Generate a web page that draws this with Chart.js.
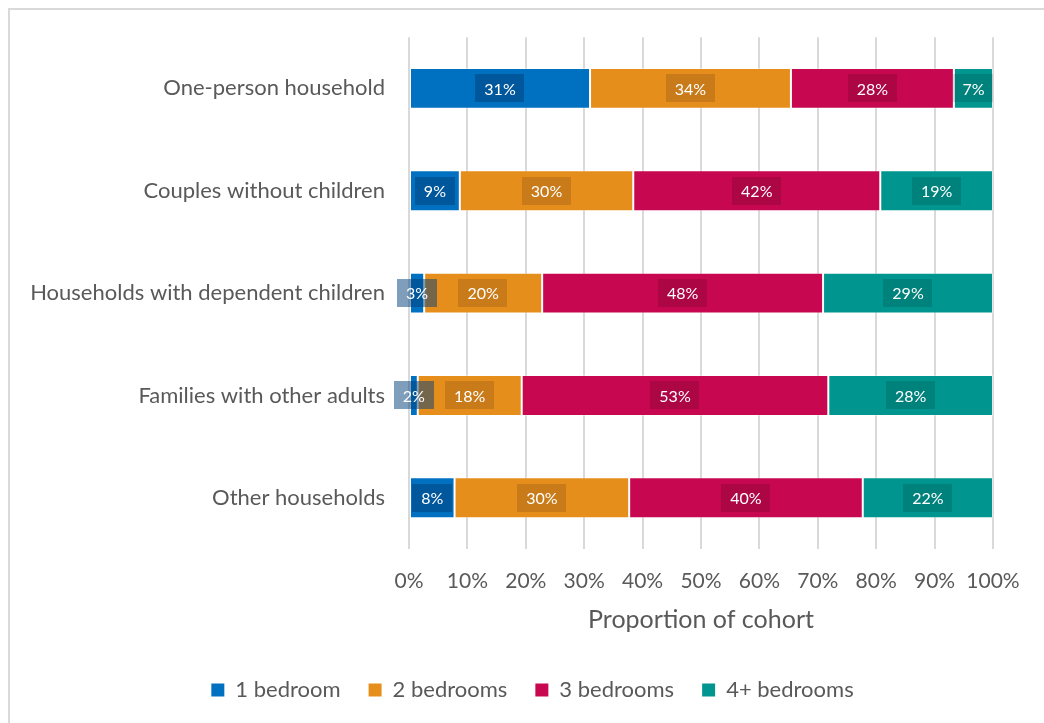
<!DOCTYPE html>
<html>
<head>
<meta charset="utf-8">
<script src="https://cdn.jsdelivr.net/npm/chart.js@4.4.1/dist/chart.umd.min.js"></script>
<style>
  html, body { margin: 0; padding: 0; background: #fff; overflow: hidden; }
  #wrap { position: relative; width: 1044px; height: 723px; overflow: hidden; }
  #frame { position: absolute; left: 8px; top: 8px; width: 1060px; height: 720px;
           border-left: 2px solid #d9d9d9; border-top: 2px solid #d9d9d9; box-sizing: border-box; }
  canvas { position: absolute; left: 0; top: 0; }
</style>
</head>
<body>
<div id="wrap">
  <div id="frame"></div>
  <canvas id="c" width="1057" height="723"></canvas>
</div>
<script>
const categories = ["One-person household", "Couples without children", "Households with dependent children", "Families with other adults", "Other households"];
const seriesNames = ["1 bedroom", "2 bedrooms", "3 bedrooms", "4+ bedrooms"];
const oneBedroom   = [31.0, 8.7, 2.6, 1.5, 7.8];
const twoBedrooms  = [34.4, 29.7, 20.2, 17.8, 29.9];
const threeBedrooms = [27.9, 42.3, 48.1, 52.5, 40.0];
const fourPlusBedrooms = [6.7, 19.3, 29.1, 28.2, 22.3];
const tickLabels = ["0%", "10%", "20%", "30%", "40%", "50%", "60%", "70%", "80%", "90%", "100%"];
const axisTitle = "Proportion of cohort";

const colors = ["#0070C0", "#E68E1C", "#C70850", "#00968F"];
const boxColors = ["rgba(0,62,120,0.5)", "rgba(0,0,0,0.13)", "rgba(0,0,0,0.13)", "rgba(0,0,0,0.13)"];
const allValues = [oneBedroom, twoBedrooms, threeBedrooms, fourPlusBedrooms];

const FONT = "Lato, 'Open Sans', sans-serif";

const labelPlugin = {
  id: 'boxLabels',
  afterDatasetsDraw(chart) {
    const ctx = chart.ctx;
    ctx.save();
    ctx.font = "16px " + FONT;
    ctx.textAlign = 'center';
    ctx.textBaseline = 'middle';
    chart.data.datasets.forEach((ds, di) => {
      const meta = chart.getDatasetMeta(di);
      meta.data.forEach((el, i) => {
        const v = ds.data[i];
        const txt = Math.round(v) + '%';
        const c = el.getCenterPoint();
        const w = ctx.measureText(txt).width + 18;
        const h = 28;
        ctx.fillStyle = boxColors[di];
        ctx.fillRect(Math.round(c.x - w / 2), Math.round(c.y - h / 2), Math.round(w), h);
        ctx.fillStyle = '#ffffff';
        ctx.fillText(txt, c.x, c.y + 1);
      });
    });
    ctx.restore();
  }
};

new Chart(document.getElementById('c'), {
  type: 'bar',
  data: {
    labels: categories,
    datasets: seriesNames.map((n, i) => ({
      label: n,
      data: allValues[i],
      backgroundColor: colors[i],
      borderColor: 'rgba(255,255,255,0.35)',
      borderWidth: 1,
      borderSkipped: false,
      categoryPercentage: 1,
      barPercentage: 0.4
    }))
  },
  options: {
    indexAxis: 'y',
    responsive: false,
    animation: false,
    devicePixelRatio: 1,
    layout: { padding: { left: 8, top: 37, right: 0, bottom: 12 } },
    scales: {
      x: {
        stacked: true,
        min: 0, max: 100,
        grid: { color: '#d9d9d9', lineWidth: 2, drawTicks: false },
        border: { display: false },
        ticks: {
          stepSize: 10,
          padding: 20,
          maxRotation: 0,
          minRotation: 0,
          autoSkip: false,
          color: '#595959',
          font: { family: FONT, size: 21 },
          callback: (v, idx) => tickLabels[idx]
        },
        title: {
          display: true,
          text: axisTitle,
          color: '#595959',
          font: { family: FONT, size: 25 },
          padding: { top: 0, bottom: 16 }
        },
        afterFit(scale) { scale.height = 102; }
      },
      y: {
        stacked: true,
        grid: { display: false, drawTicks: false },
        border: { display: false },
        ticks: {
          padding: 24,
          color: '#595959',
          font: { family: FONT, size: 22 }
        },
        afterFit(scale) { scale.width = 401; }
      },
      yRightSpace: {
        type: 'category',
        position: 'right',
        labels: [''],
        grid: { display: false, drawTicks: false },
        border: { display: false },
        ticks: { display: false },
        afterFit(scale) { scale.width = 64; }
      }
    },
    plugins: {
      legend: {
        position: 'bottom',
        labels: {
          color: '#595959',
          font: { family: FONT, size: 22 },
          boxWidth: 13,
          boxHeight: 13,
          padding: 28,
          useBorderRadius: false,
          generateLabels(chart) {
            return chart.data.datasets.map((d, i) => ({
              text: d.label, fillStyle: colors[i], strokeStyle: colors[i], lineWidth: 0,
              datasetIndex: i, hidden: false, fontColor: '#595959'
            }));
          }
        }
      },
      tooltip: { enabled: false }
    }
  },
  plugins: [labelPlugin]
});
</script>
</body>
</html>
